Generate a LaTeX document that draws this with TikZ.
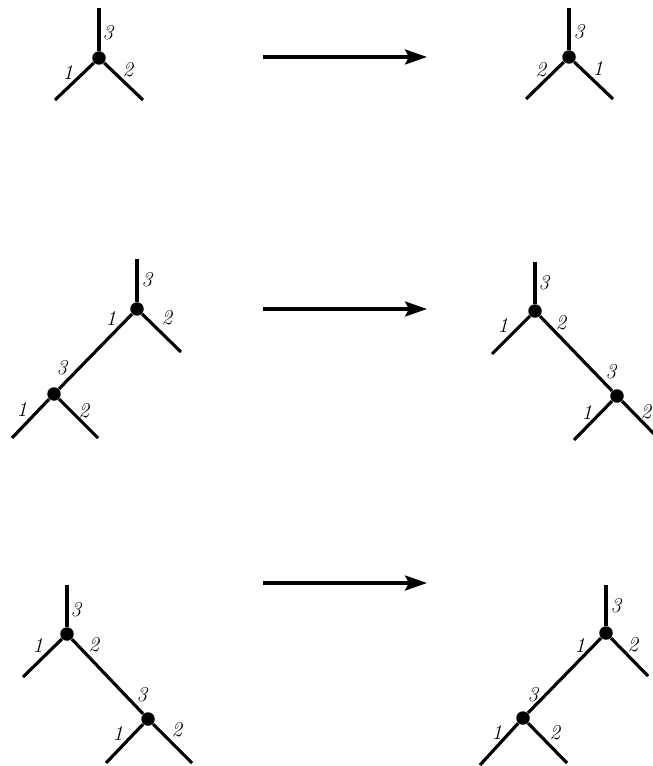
\documentclass[tikz,border=0pt]{standalone}
\usepackage{amsmath}
\usepackage{amsfonts}
\usepackage{amssymb}
\usepackage{tikz}
\usetikzlibrary{arrows.meta}

\begin{document}
\begin{tikzpicture}[x=0.02cm,y=-0.02cm]
\tikzstyle{every node}+=[inner sep=0pt]
\tikzstyle{vtx}=[circle,fill=black,minimum size=0.27cm]
\tikzstyle{leg}=[black,line width=1.8pt]
\tikzstyle{lbl}=[font=\large\itshape]
\tikzstyle{mapsto}=[black,line width=1.8pt,-{Stealth[length=0.44cm,width=0.3cm,inset=0.08cm]}]
\useasboundingbox (0,0) rectangle (652,766);
% first row
\node [vtx] (a) at (99,58) {};
\coordinate (at) at (99,8);
\coordinate (al) at (55,100);
\coordinate (ar) at (143,100);
\draw [leg] (a) -- (at);
\draw [leg] (a) -- (al);
\draw [leg] (a) -- (ar);
\draw (108,33) node [lbl] {3};
\draw (68,72) node [lbl] {1};
\draw (128,70) node [lbl] {2};
\coordinate (s1) at (263,57);
\coordinate (t1) at (427,57);
\draw [mapsto] (s1) -- (t1);
\node [vtx] (a') at (569,57) {};
\coordinate (a't) at (569,8);
\coordinate (a'l) at (526,99);
\coordinate (a'r) at (613,99);
\draw [leg] (a') -- (a't);
\draw [leg] (a') -- (a'l);
\draw [leg] (a') -- (a'r);
\draw (579,32) node [lbl] {3};
\draw (541,70) node [lbl] {2};
\draw (598,68) node [lbl] {1};
% second row
\node [vtx] (b1) at (137,309) {};
\node [vtx] (b2) at (54,394) {};
\coordinate (b1t) at (137,259);
\coordinate (b1r) at (181,352);
\coordinate (b2l) at (12,438);
\coordinate (b2r) at (98,438);
\draw [leg] (b1) -- (b1t);
\draw [leg] (b1) -- (b1r);
\draw [leg] (b1) -- (b2);
\draw [leg] (b2) -- (b2l);
\draw [leg] (b2) -- (b2r);
\draw (147,280) node [lbl] {3};
\draw (111,318) node [lbl] {1};
\draw (167,318) node [lbl] {2};
\draw (62,368) node [lbl] {3};
\draw (22,409) node [lbl] {1};
\draw (84,411) node [lbl] {2};
\coordinate (s2) at (263,309);
\coordinate (t2) at (427,309);
\draw [mapsto] (s2) -- (t2);
\node [vtx] (c1) at (535,311) {};
\node [vtx] (c2) at (617,396) {};
\coordinate (c1t) at (535,262);
\coordinate (c1l) at (492,354);
\coordinate (c2l) at (574,440);
\coordinate (c2r) at (660,440);
\draw [leg] (c1) -- (c1t);
\draw [leg] (c1) -- (c1l);
\draw [leg] (c1) -- (c2);
\draw [leg] (c2) -- (c2l);
\draw [leg] (c2) -- (c2r);
\draw (544,283) node [lbl] {3};
\draw (503,325) node [lbl] {1};
\draw (561,323) node [lbl] {2};
\draw (611,372) node [lbl] {3};
\draw (587,412) node [lbl] {1};
\draw (646,412) node [lbl] {2};
% third row
\node [vtx] (d1) at (67,634) {};
\node [vtx] (d2) at (148,719) {};
\coordinate (d1t) at (67,585);
\coordinate (d1l) at (23,677);
\coordinate (d2l) at (106,763);
\coordinate (d2r) at (192,763);
\draw [leg] (d1) -- (d1t);
\draw [leg] (d1) -- (d1l);
\draw [leg] (d1) -- (d2);
\draw [leg] (d2) -- (d2l);
\draw [leg] (d2) -- (d2r);
\draw (76,610) node [lbl] {3};
\draw (38,645) node [lbl] {1};
\draw (94,645) node [lbl] {2};
\draw (142,695) node [lbl] {3};
\draw (118,733) node [lbl] {1};
\draw (177,730) node [lbl] {2};
\coordinate (s3) at (263,583);
\coordinate (t3) at (427,583);
\draw [mapsto] (s3) -- (t3);
\node [vtx] (e1) at (606,633) {};
\node [vtx] (e2) at (523,718) {};
\coordinate (e1t) at (606,585);
\coordinate (e1r) at (648,676);
\coordinate (e2l) at (480,765);
\coordinate (e2r) at (567,763);
\draw [leg] (e1) -- (e1t);
\draw [leg] (e1) -- (e1r);
\draw [leg] (e1) -- (e2);
\draw [leg] (e2) -- (e2l);
\draw [leg] (e2) -- (e2r);
\draw (616,606) node [lbl] {3};
\draw (580,645) node [lbl] {1};
\draw (633,645) node [lbl] {2};
\draw (533,695) node [lbl] {3};
\draw (497,732) node [lbl] {1};
\draw (555,733) node [lbl] {2};
\end{tikzpicture}
\end{document}
